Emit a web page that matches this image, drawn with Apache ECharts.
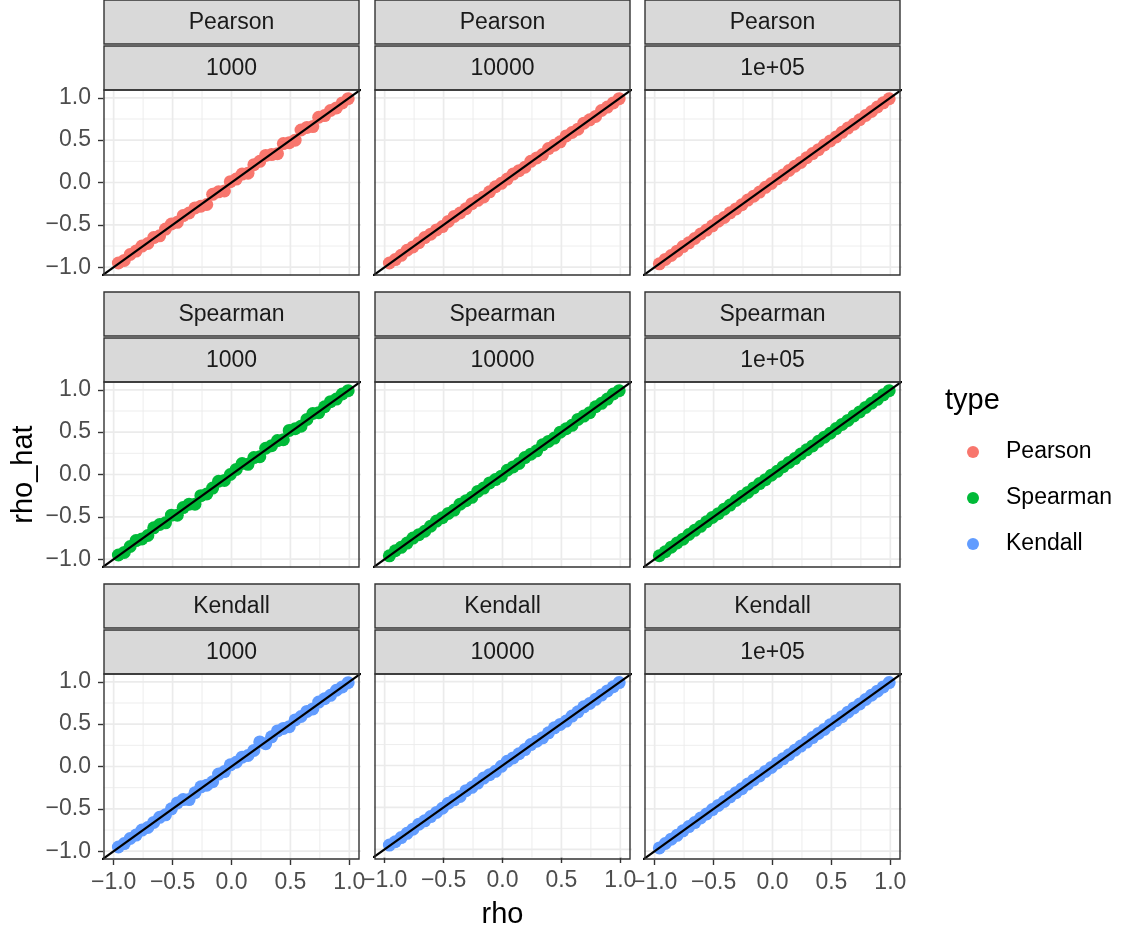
<!DOCTYPE html>
<html>
<head>
<meta charset="utf-8">
<script src="https://cdn.jsdelivr.net/npm/echarts@6/dist/echarts.min.js"></script>
<style>
html,body{margin:0;padding:0;background:#fff;}
#chart{width:1125px;height:930px;}
</style>
</head>
<body>
<div id="chart"></div>
<script>
// ---- data ----
const types = ['Pearson', 'Spearman', 'Kendall'];
const sizes = ['1000', '10000', '1e+05'];
const colors = ['#F8766D', '#00BA38', '#619CFF'];
const tickValues = [-1, -0.5, 0, 0.5, 1];
const minorBreaks = [-0.75, -0.25, 0.25, 0.75];
const abline = [-1.2, 1.2];

const rho = [-0.96,-0.91,-0.86,-0.81,-0.76,-0.71,-0.66,-0.61,-0.56,-0.51,-0.46,-0.41,-0.36,-0.31,-0.26,-0.21,-0.16,-0.11,-0.06,-0.01,0.04,0.09,0.14,0.19,0.24,0.29,0.34,0.39,0.44,0.49,0.54,0.59,0.64,0.69,0.74,0.79,0.84,0.89,0.94,0.99];

const pearson1000 = [-0.95,-0.92,-0.85,-0.81,-0.75,-0.72,-0.65,-0.63,-0.55,-0.49,-0.47,-0.39,-0.36,-0.30,-0.28,-0.26,-0.14,-0.11,-0.10,0.01,0.04,0.10,0.11,0.21,0.25,0.32,0.33,0.34,0.46,0.47,0.50,0.62,0.65,0.66,0.77,0.79,0.85,0.88,0.94,0.99];
const pearson10000 = [-0.95,-0.91,-0.86,-0.80,-0.76,-0.71,-0.65,-0.61,-0.56,-0.52,-0.46,-0.40,-0.36,-0.31,-0.25,-0.21,-0.17,-0.11,-0.05,-0.01,0.04,0.10,0.14,0.18,0.25,0.29,0.33,0.40,0.44,0.48,0.55,0.59,0.63,0.70,0.74,0.78,0.85,0.89,0.94,0.99];
const pearson1e5 = [-0.960,-0.908,-0.862,-0.811,-0.757,-0.712,-0.661,-0.608,-0.562,-0.511,-0.457,-0.413,-0.358,-0.312,-0.263,-0.208,-0.161,-0.113,-0.057,-0.012,0.043,0.088,0.142,0.193,0.237,0.292,0.341,0.388,0.443,0.491,0.538,0.592,0.642,0.688,0.741,0.791,0.838,0.891,0.941,0.989];

const spearman1000 = [-0.95,-0.92,-0.85,-0.78,-0.76,-0.72,-0.63,-0.59,-0.57,-0.48,-0.48,-0.39,-0.35,-0.35,-0.25,-0.23,-0.16,-0.08,-0.07,0.00,0.06,0.13,0.12,0.20,0.21,0.31,0.34,0.40,0.41,0.52,0.54,0.57,0.65,0.72,0.73,0.80,0.86,0.89,0.95,0.99];
const spearman10000 = [-0.96,-0.90,-0.86,-0.81,-0.75,-0.71,-0.67,-0.61,-0.55,-0.51,-0.46,-0.42,-0.35,-0.31,-0.27,-0.20,-0.16,-0.10,-0.06,-0.02,0.05,0.09,0.13,0.20,0.24,0.28,0.35,0.39,0.43,0.50,0.54,0.58,0.65,0.69,0.73,0.80,0.84,0.89,0.95,0.99];
const spearman1e5 = [-0.959,-0.912,-0.858,-0.809,-0.763,-0.708,-0.659,-0.612,-0.558,-0.507,-0.462,-0.409,-0.361,-0.307,-0.258,-0.212,-0.158,-0.107,-0.061,-0.008,0.038,0.092,0.143,0.188,0.242,0.291,0.337,0.392,0.441,0.487,0.542,0.591,0.638,0.692,0.739,0.792,0.841,0.888,0.941,0.990];

const kendall1000 = [-0.95,-0.91,-0.85,-0.81,-0.75,-0.72,-0.66,-0.60,-0.57,-0.50,-0.43,-0.39,-0.39,-0.31,-0.24,-0.22,-0.18,-0.09,-0.06,0.02,0.05,0.11,0.13,0.19,0.29,0.27,0.35,0.42,0.45,0.47,0.55,0.59,0.65,0.68,0.76,0.80,0.84,0.90,0.94,0.99];
const kendall10000 = [-0.95,-0.91,-0.86,-0.81,-0.76,-0.70,-0.66,-0.61,-0.56,-0.51,-0.45,-0.41,-0.37,-0.30,-0.26,-0.21,-0.15,-0.11,-0.07,-0.01,0.05,0.09,0.14,0.19,0.25,0.29,0.33,0.39,0.45,0.49,0.53,0.59,0.64,0.70,0.74,0.79,0.84,0.89,0.94,0.99];
const kendall1e5 = [-0.961,-0.909,-0.858,-0.812,-0.759,-0.709,-0.662,-0.608,-0.561,-0.508,-0.459,-0.412,-0.358,-0.309,-0.262,-0.208,-0.159,-0.111,-0.058,-0.011,0.042,0.091,0.139,0.192,0.241,0.288,0.342,0.391,0.438,0.492,0.541,0.588,0.641,0.692,0.738,0.791,0.842,0.889,0.939,0.991];

const rhoHat = [
  [pearson1000, pearson10000, pearson1e5],
  [spearman1000, spearman10000, spearman1e5],
  [kendall1000, kendall10000, kendall1e5]
];

// ---- layout ----
const FONT = '"Liberation Sans", Arial, Helvetica, sans-serif';
const colLeft = [104, 375, 645];
const rowTop = [90, 382, 674];
const panelW = 255, panelH = 185, stripH = 44;
const xRange = 1.082, yRange = 1.092;

function fmt(v) {
  const s = Math.abs(v).toFixed(1);
  return v < -1e-9 ? '\u2212' + s : s;
}

const grids = [], xAxes = [], yAxes = [], series = [], graphics = [];
let idx = 0;
for (let r = 0; r < 3; r++) {
  for (let c = 0; c < 3; c++) {
    grids.push({
      left: colLeft[c], top: rowTop[r], width: panelW, height: panelH,
      show: false, containLabel: false
    });
    const bottom = r === 2, left = c === 0;
    xAxes.push({
      type: 'value', gridIndex: idx, min: -xRange, max: xRange, position: 'bottom',
      axisLine: { show: false, onZero: false },
      splitLine: { show: false },
      axisTick: { show: bottom, length: 6, customValues: tickValues, lineStyle: { color: '#333333', width: 1.4 } },
      axisLabel: { show: bottom, customValues: tickValues, formatter: fmt, margin: 12,
        fontSize: 23, color: '#4d4d4d', fontFamily: FONT },
      name: (bottom && c === 1) ? 'rho' : '',
      nameLocation: 'middle', nameGap: 43,
      nameTextStyle: { fontSize: 29, color: '#000000', fontFamily: FONT }
    });
    yAxes.push({
      type: 'value', gridIndex: idx, min: -yRange, max: yRange, position: 'left',
      axisLine: { show: false, onZero: false },
      splitLine: { show: false },
      axisTick: { show: left, length: 6, customValues: tickValues, lineStyle: { color: '#333333', width: 1.4 } },
      axisLabel: { show: left, customValues: tickValues, formatter: fmt, margin: 13,
        fontSize: 23, color: '#4d4d4d', fontFamily: FONT },
      name: (left && r === 1) ? 'rho_hat' : '',
      nameLocation: 'middle', nameGap: 66,
      nameTextStyle: { fontSize: 29, color: '#000000', fontFamily: FONT }
    });
    // gridlines (minor then major) as line series through the axes
    const addGridLine = (v, vertical, width) => {
      series.push({
        type: 'line', xAxisIndex: idx, yAxisIndex: idx, z: 1,
        data: vertical ? [[v, -2], [v, 2]] : [[-2, v], [2, v]],
        showSymbol: false, symbol: 'none', clip: true, silent: true, animation: false,
        lineStyle: { color: '#ebebeb', width: width }
      });
    };
    minorBreaks.forEach(v => { addGridLine(v, true, 0.9); addGridLine(v, false, 0.9); });
    tickValues.forEach(v => { addGridLine(v, true, 1.7); addGridLine(v, false, 1.7); });
    // points
    const hat = rhoHat[r][c];
    series.push({
      type: 'scatter', name: types[r], xAxisIndex: idx, yAxisIndex: idx, z: 2,
      data: rho.map((x, k) => [x, hat[k]]),
      symbol: 'circle', symbolSize: 13,
      itemStyle: { color: colors[r], opacity: 1 },
      animation: false
    });
    // y = x reference line
    series.push({
      type: 'line', xAxisIndex: idx, yAxisIndex: idx, z: 3,
      data: [[abline[0], abline[0]], [abline[1], abline[1]]],
      showSymbol: false, symbol: 'none', clip: true,
      lineStyle: { color: '#000000', width: 2.2 }, silent: true, animation: false
    });
    // strips
    const sx = colLeft[c];
    const labels = [types[r], sizes[c]];
    for (let s = 0; s < 2; s++) {
      const sy = rowTop[r] - 90 + s * 46;
      graphics.push({
        type: 'rect', shape: { x: sx, y: sy, width: panelW, height: stripH },
        style: { fill: '#d9d9d9', stroke: '#333333', lineWidth: 1.4 }, silent: true, z: 10
      });
      graphics.push({
        type: 'text', x: sx + panelW / 2, y: sy + stripH / 2 + 1, z: 11, silent: true,
        style: { text: labels[s], fill: '#1a1a1a', fontSize: 23, fontFamily: FONT, align: 'center', verticalAlign: 'middle' }
      });
    }
    // panel border on top
    graphics.push({
      type: 'rect', shape: { x: colLeft[c], y: rowTop[r], width: panelW, height: panelH },
      style: { fill: 'transparent', stroke: '#333333', lineWidth: 1.4 }, silent: true, z: 10
    });
    idx++;
  }
}

graphics.push({
  type: 'text', x: 945, y: 401, silent: true,
  style: { text: 'type', fill: '#000000', fontSize: 29, fontFamily: FONT, align: 'left', verticalAlign: 'middle' }
});

const chart = echarts.init(document.getElementById('chart'), null, { renderer: 'canvas' });
chart.setOption({
  animation: false,
  backgroundColor: '#ffffff',
  grid: grids,
  xAxis: xAxes,
  yAxis: yAxes,
  series: series,
  legend: {
    orient: 'vertical', left: 962, top: 435,
    data: types.map(t => ({ name: t, icon: 'circle' })),
    itemWidth: 12, itemHeight: 12, itemGap: 22,
    textStyle: { fontSize: 23, color: '#000000', fontFamily: FONT, padding: [0, 0, 0, 22], lineHeight: 24 },
    selectedMode: false
  },
  graphic: graphics
});
</script>
</body>
</html>
